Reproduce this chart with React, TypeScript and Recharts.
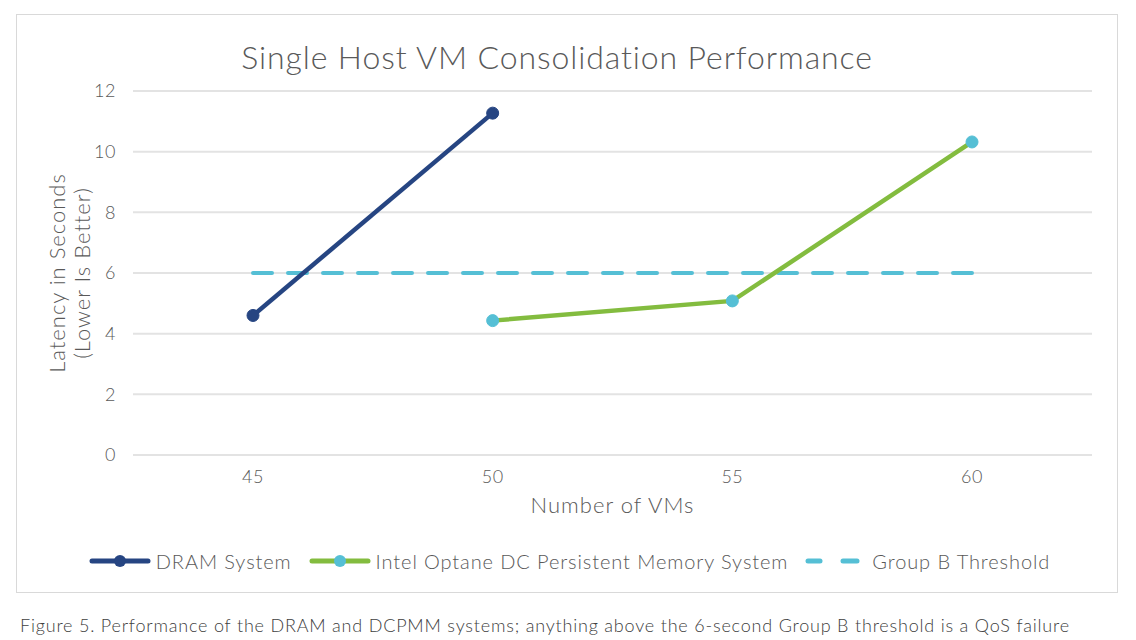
import { LineChart, Line, XAxis, YAxis, CartesianGrid, Legend } from "recharts";

const vmCounts = ["45", "50", "55", "60"];
const dramLatency = [4.6, 11.27, null, null];
const optaneLatency = [null, 4.43, 5.08, 10.32];
const groupBThreshold = [6, 6, 6, 6];
const yTicks = [0, 2, 4, 6, 8, 10, 12];

const chartData = vmCounts.map((vms, i) => ({
  vms,
  dram: dramLatency[i],
  optane: optaneLatency[i],
  threshold: groupBThreshold[i]
}));

const FONT = "Lato, 'Noto Sans', sans-serif";
const TEXT = "#595959";
const DRAM_BLUE = "#264582";
const OPTANE_GREEN = "#83bc3f";
const CYAN = "#55bfd5";

function LegendIcon({ line, dot, dashed }: { line: string; dot?: string; dashed?: boolean }) {
  return (
    <svg width={62} height={14} style={{ marginRight: 5 }}>
      {dashed ? (
        <>
          <line x1={3} y1={7} x2={15} y2={7} stroke={line} strokeWidth={5} strokeLinecap="round" />
          <line x1={38} y1={7} x2={52} y2={7} stroke={line} strokeWidth={5} strokeLinecap="round" />
        </>
      ) : (
        <line x1={3} y1={7} x2={59} y2={7} stroke={line} strokeWidth={5} strokeLinecap="round" />
      )}
      {dot && <circle cx={31} cy={7} r={6} fill={dot} />}
    </svg>
  );
}

function ChartLegend() {
  const items = [
    { name: "DRAM System", line: DRAM_BLUE, dot: DRAM_BLUE },
    { name: "Intel Optane DC Persistent Memory System", line: OPTANE_GREEN, dot: CYAN },
    { name: "Group B Threshold", line: CYAN, dashed: true }
  ];
  return (
    <div
      style={{
        display: "flex",
        justifyContent: "center",
        alignItems: "center",
        height: 36,
        gap: 17,
        paddingLeft: 30,
        fontFamily: FONT,
        fontSize: 20,
        fontWeight: 300,
        letterSpacing: 0.9,
        color: TEXT
      }}
    >
      {items.map((it) => (
        <div key={it.name} style={{ display: "flex", alignItems: "center" }}>
          <LegendIcon line={it.line} dot={it.dot} dashed={it.dashed} />
          <span>{it.name}</span>
        </div>
      ))}
    </div>
  );
}

export default function App() {
  return (
    <div style={{ position: "absolute", left: 0, top: 0, width: 1136, height: 640, background: "#fff" }}>
      <div
        style={{
          position: "absolute",
          left: 16,
          top: 14,
          width: 1102,
          height: 579,
          border: "1px solid #d9d9d9",
          boxSizing: "border-box"
        }}
      >
        <div
          style={{
            position: "absolute",
            left: 0,
            width: 1080,
            top: 22,
            textAlign: "center",
            fontFamily: FONT,
            fontSize: 32,
            fontWeight: 300,
            letterSpacing: 0.9,
            color: TEXT
          }}
        >
          Single Host VM Consolidation Performance
        </div>
        <LineChart
          width={1100}
          height={577}
          data={chartData}
          margin={{ top: 76, right: 25, bottom: 13, left: 0 }}
        >
          <CartesianGrid vertical={false} stroke="#e3e3e3" strokeWidth={2} />
          <XAxis
            dataKey="vms"
            padding={{ left: 120, right: 120 }}
            tickLine={false}
            axisLine={false}
            tickSize={0}
            tickMargin={15}
            height={88}
            tick={{ fill: TEXT, fontSize: 18, fontFamily: FONT, fontWeight: 300, letterSpacing: 0.5 }}
            label={{
              content: ({ viewBox }: any) => (
                <text
                  x={viewBox.x + viewBox.width / 2}
                  y={viewBox.y + 49}
                  textAnchor="middle"
                  dominantBaseline="central"
                  fill={TEXT}
                  fontSize={22}
                  fontWeight={300}
                  letterSpacing={1}
                  fontFamily={FONT}
                >
                  Number of VMs
                </text>
              )
            }}
          />
          <YAxis
            domain={[0, 12]}
            ticks={yTicks}
            width={116}
            tickLine={false}
            axisLine={false}
            tickSize={0}
            tickMargin={17}
            tick={{ fill: TEXT, fontSize: 18, fontFamily: FONT, fontWeight: 300, letterSpacing: 0.5 }}
            label={{
              content: ({ viewBox }: any) => {
                const cy = viewBox.y + viewBox.height / 2;
                return (
                  <g fill={TEXT} fontSize={22} fontWeight={300} fontFamily={FONT} letterSpacing={1}>
                    <text
                      transform={`translate(39, ${cy}) rotate(-90)`}
                      textAnchor="middle"
                      dominantBaseline="central"
                    >
                      Latency in Seconds
                    </text>
                    <text
                      transform={`translate(64, ${cy}) rotate(-90)`}
                      textAnchor="middle"
                      dominantBaseline="central"
                    >
                      (Lower Is Better)
                    </text>
                  </g>
                );
              }
            }}
          />
          <Legend verticalAlign="bottom" content={() => <ChartLegend />} />
          <Line
            dataKey="threshold"
            name="Group B Threshold"
            stroke={CYAN}
            strokeWidth={4}
            strokeDasharray="19 16"
            strokeLinecap="round"
            dot={false}
            activeDot={false}
            isAnimationActive={false}
          />
          <Line
            dataKey="dram"
            name="DRAM System"
            stroke={DRAM_BLUE}
            strokeWidth={4.5}
            dot={{ r: 6, fill: DRAM_BLUE, stroke: DRAM_BLUE, strokeWidth: 1 }}
            isAnimationActive={false}
          />
          <Line
            dataKey="optane"
            name="Intel Optane DC Persistent Memory System"
            stroke={OPTANE_GREEN}
            strokeWidth={4.5}
            dot={{ r: 6, fill: CYAN, stroke: CYAN, strokeWidth: 1 }}
            isAnimationActive={false}
          />
        </LineChart>
      </div>
      <div
        style={{
          position: "absolute",
          left: 20,
          top: 614,
          fontFamily: FONT,
          fontSize: 18,
          fontWeight: 300,
          letterSpacing: 0.8,
          color: "#404040",
          whiteSpace: "nowrap"
        }}
      >
        Figure 5. Performance of the DRAM and DCPMM systems; anything above the 6-second Group B threshold is a QoS failure
      </div>
    </div>
  );
}
